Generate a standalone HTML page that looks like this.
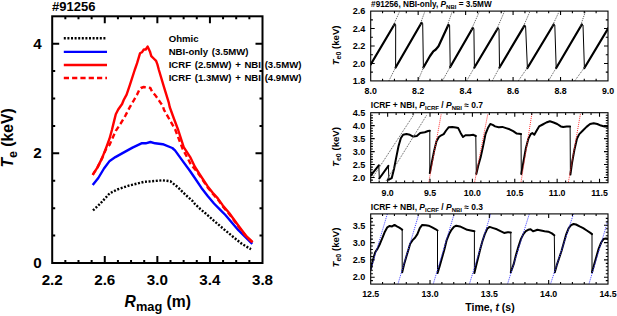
<!DOCTYPE html>
<html><head><meta charset="utf-8"><style>
html,body{margin:0;padding:0;background:#fff;}
body{width:617px;height:316px;overflow:hidden;}
svg{display:block;}
</style></head><body>
<svg width="617" height="316" viewBox="0 0 617 316">
<rect width="617" height="316" fill="#fff"/>
<g stroke="#000" stroke-width="2" fill="none">
<rect x="52.2" y="16.3" width="210.3" height="246.7"/>
<path d="M65.34 263v-3M65.34 16.3v3M78.49 263v-3M78.49 16.3v3M91.63 263v-3M91.63 16.3v3M104.77 263v-7M104.77 16.3v7M117.92 263v-3M117.92 16.3v3M131.06 263v-3M131.06 16.3v3M144.21 263v-3M144.21 16.3v3M157.35 263v-7M157.35 16.3v7M170.49 263v-3M170.49 16.3v3M183.64 263v-3M183.64 16.3v3M196.78 263v-3M196.78 16.3v3M209.93 263v-7M209.93 16.3v7M223.07 263v-3M223.07 16.3v3M236.21 263v-3M236.21 16.3v3M249.36 263v-3M249.36 16.3v3M52.2 235.59h3M262.5 235.59h-3M52.2 208.18h3M262.5 208.18h-3M52.2 180.77h3M262.5 180.77h-3M52.2 153.36h7M262.5 153.36h-7M52.2 125.94h3M262.5 125.94h-3M52.2 98.53h3M262.5 98.53h-3M52.2 71.12h3M262.5 71.12h-3M52.2 43.71h7M262.5 43.71h-7"/>
</g>
<g font-family='"Liberation Sans", sans-serif' font-weight="bold" font-size="15.2" fill="#000" text-anchor="middle">
<text x="52.2" y="285.2">2.2</text>
<text x="104.77" y="285.2">2.6</text>
<text x="157.35" y="285.2">3.0</text>
<text x="209.92" y="285.2">3.4</text>
<text x="262.5" y="285.2">3.8</text>
</g>
<g font-family='"Liberation Sans", sans-serif' font-weight="bold" font-size="15.2" fill="#000" text-anchor="end">
<text x="41.6" y="268">0</text>
<text x="41.6" y="158.36">2</text>
<text x="41.6" y="48.71">4</text>
</g>
<text x="52" y="11.3" font-family='"Liberation Sans", sans-serif' font-weight="bold" font-size="13">#91256</text>
<text x="124.6" y="307.2" font-family='"Liberation Sans", sans-serif' font-weight="bold" font-size="15.7"><tspan font-style="italic">R</tspan><tspan font-size="12.8" dy="4">mag</tspan><tspan dy="-4"> (m)</tspan></text>
<text transform="translate(13.4,167.6) rotate(-90)" font-family='"Liberation Sans", sans-serif' font-weight="bold" font-size="15.7"><tspan font-style="italic">T</tspan><tspan font-size="12.5" dy="3.8">e</tspan><tspan dy="-3.8"> (keV)</tspan></text>
<g stroke-width="2.4" fill="none">
<path d="M63.8 38.3H107" stroke="#000" stroke-dasharray="2 1.6"/>
<path d="M63.8 51.9H107" stroke="#0000ff"/>
<path d="M63.8 65H107" stroke="#ff0000"/>
<path d="M63.8 78H107" stroke="#ff0000" stroke-dasharray="5.2 3.1"/>
</g>
<g font-family='"Liberation Sans", sans-serif' font-weight="bold" font-size="9.6" word-spacing="1" fill="#000">
<text x="168.7" y="41.8">Ohmic</text>
<text x="168.7" y="54.6">NBI-only (3.5MW)</text>
<text x="168.7" y="67.6">ICRF (2.5MW) + NBI (3.5MW)</text>
<text x="168.7" y="80.6">ICRF (1.3MW) + NBI (4.9MW)</text>
</g>
<g fill="none" stroke-width="2.4" stroke-linejoin="round">
<polyline points="93,210.4 100.2,203.7 109.7,193.3 117.3,189.5 128.7,185.7 143.9,181.9 151.4,181.3 162.8,180.3 170.4,181.3 177.6,187 185.2,194.5 192.7,201.2 195,204.1 200.3,209 205.1,213 214,220.8 223.5,228.9 232.7,236.5 242.2,244.1 251,249.2" stroke="#000" stroke-dasharray="2 1.6"/>
<polyline points="92.7,185 98.3,178 104,168.5 109.7,160.9 115.4,157.1 123,152.9 132.5,147.6 142,143.2 145.7,143.3 150.4,142 155.2,143.3 162.8,144.2 172.3,148 175,150.4 182.6,160.9 190.2,171.2 195,178.2 201.3,187.7 207.7,195.9 214,203.5 220.3,209.8 225.4,215 231.1,221.8 238.4,230.2 252.3,243.9" stroke="#0000ff"/>
<polyline points="92.7,174.8 97.5,167.4 102.2,157.9 106.3,148.4 109.5,145 112.6,137.9 115.8,130.8 120.6,123.7 125.3,115.8 130,106.8 134,100 137.1,94.6 139.5,89.4 140.9,88 143.8,87 146.6,87.5 150.4,88 152.3,92.3 155.2,95.1 157.6,98.4 159.9,101.8 162.8,106 164,109.9 171.6,123.2 175.4,130 182.7,149 191.3,165.1 196,170.5 200.1,176 207.7,187.4 212.7,193.7 217.8,199.4 222.8,206.4 229.2,214 239,227.2 246.6,237 252.7,242.7" stroke="#ff0000" stroke-dasharray="5.2 3.1"/>
<polyline points="92.7,174.8 97.5,167.4 102.2,157.9 106.3,147.4 109.5,138.7 111.9,130 114.2,120.6 115.8,114.2 118.2,109.5 122.1,104 123.7,100 126.6,94.7 129.9,84.8 134.7,70 137.1,63.2 140,53.3 141.9,52.3 143.8,49.5 145.7,49.5 147.6,46.6 149.9,51.4 151.3,56.1 153.7,58.5 156.1,60.9 157.5,64.7 158.9,70 164,87.1 168.7,102.3 169.7,107 173.5,117.5 178.2,130 183.7,147.1 190.2,157.1 195,167 200.1,175 207.7,186.4 212.7,192.7 217.8,198.4 222.8,205.4 229.2,213 239,226.5 246.6,236.5 252.7,242.2" stroke="#ff0000"/>
</g>
<clipPath id="c1"><rect x="370.7" y="11.1" width="237.3" height="69.8"/></clipPath>
<g clip-path="url(#c1)" fill="none" stroke="#000" stroke-linejoin="round" stroke-linecap="round">
<polyline points="370.7,64.5 394.5,24.2" stroke-width="2.2"/>
<polyline points="395.6,67.5 421.5,22.8" stroke-width="2.2"/>
<polyline points="423.4,67.5 430,56 433.3,51.3 435.8,49.5 438.5,46.3 448.4,24.7" stroke-width="2.2"/>
<polyline points="450.2,67 472.7,28" stroke-width="2.2"/>
<polyline points="474.4,67.5 497.8,28.3" stroke-width="2.2"/>
<polyline points="499.5,67.5 524.4,25.6" stroke-width="2.2"/>
<polyline points="527.4,68 553.6,24.5" stroke-width="2.2"/>
<polyline points="556.2,68 581.8,24.5" stroke-width="2.2"/>
<polyline points="584.4,68 608.5,27.8" stroke-width="2.2"/>
<polyline points="394.5,24.2 395.7,24.7 395.6,67.5" stroke-width="1"/>
<polyline points="421.5,22.8 422.7,23.3 423.4,67.5" stroke-width="1"/>
<polyline points="448.4,24.7 449.6,25.2 450.2,67" stroke-width="1"/>
<polyline points="472.7,28 473.9,28.5 474.4,67.5" stroke-width="1"/>
<polyline points="497.8,28.3 499,28.8 499.5,67.5" stroke-width="1"/>
<polyline points="524.4,25.6 525.6,26.1 527.4,68" stroke-width="1"/>
<polyline points="553.6,24.5 554.8,25 556.2,68" stroke-width="1"/>
<polyline points="581.8,24.5 583,25 584.4,68" stroke-width="1"/>
</g>
<g clip-path="url(#c1)" fill="none" stroke-width="1" stroke-dasharray="1 1">
<line x1="393" y1="26.2" x2="399.7" y2="11.3" stroke="#555"/>
<line x1="388.8" y1="81" x2="396.1" y2="66.5" stroke="#555"/>
<line x1="420" y1="24.8" x2="424.9" y2="11.3" stroke="#555"/>
<line x1="417.9" y1="81" x2="423.9" y2="66.5" stroke="#555"/>
<line x1="446.9" y1="26.7" x2="452.3" y2="11.3" stroke="#555"/>
<line x1="442.3" y1="81" x2="450.7" y2="66" stroke="#555"/>
<line x1="471.2" y1="30" x2="479.5" y2="11.3" stroke="#555"/>
<line x1="466.6" y1="81" x2="474.9" y2="66.5" stroke="#555"/>
<line x1="496.3" y1="30.3" x2="504.5" y2="11.3" stroke="#555"/>
<line x1="492.2" y1="81" x2="500" y2="66.5" stroke="#555"/>
<line x1="522.9" y1="27.6" x2="530" y2="11.3" stroke="#555"/>
<line x1="518.2" y1="81" x2="527.9" y2="67" stroke="#555"/>
<line x1="552.1" y1="26.5" x2="559.2" y2="11.3" stroke="#555"/>
<line x1="548.4" y1="81" x2="556.7" y2="67" stroke="#555"/>
<line x1="580.3" y1="26.5" x2="585.5" y2="11.3" stroke="#555"/>
<line x1="574.6" y1="81" x2="584.9" y2="67" stroke="#555"/>
</g>
<g stroke="#000" stroke-width="1.1" fill="none">
<rect x="370.7" y="11.1" width="237.3" height="69.8"/>
<path d="M382.57 80.9v-2.2M382.57 11.1v2.2M394.43 80.9v-2.2M394.43 11.1v2.2M406.3 80.9v-2.2M406.3 11.1v2.2M418.16 80.9v-4M418.16 11.1v4M430.02 80.9v-2.2M430.02 11.1v2.2M441.89 80.9v-2.2M441.89 11.1v2.2M453.75 80.9v-2.2M453.75 11.1v2.2M465.62 80.9v-4M465.62 11.1v4M477.48 80.9v-2.2M477.48 11.1v2.2M489.35 80.9v-2.2M489.35 11.1v2.2M501.22 80.9v-2.2M501.22 11.1v2.2M513.08 80.9v-4M513.08 11.1v4M524.95 80.9v-2.2M524.95 11.1v2.2M536.81 80.9v-2.2M536.81 11.1v2.2M548.67 80.9v-2.2M548.67 11.1v2.2M560.54 80.9v-4M560.54 11.1v4M572.4 80.9v-2.2M572.4 11.1v2.2M584.27 80.9v-2.2M584.27 11.1v2.2M596.13 80.9v-2.2M596.13 11.1v2.2M370.7 72.17h2.2M608 72.17h-2.2M370.7 63.45h4M608 63.45h-4M370.7 54.73h2.2M608 54.73h-2.2M370.7 46h4M608 46h-4M370.7 37.28h2.2M608 37.28h-2.2M370.7 28.55h4M608 28.55h-4M370.7 19.83h2.2M608 19.83h-2.2"/>
</g>
<g font-family='"Liberation Sans", sans-serif' font-weight="bold" font-size="8.8" fill="#000">
<text x="370.7" y="93.7" text-anchor="middle">8.0</text>
<text x="418.16" y="93.7" text-anchor="middle">8.2</text>
<text x="465.62" y="93.7" text-anchor="middle">8.4</text>
<text x="513.08" y="93.7" text-anchor="middle">8.6</text>
<text x="560.54" y="93.7" text-anchor="middle">8.8</text>
<text x="608" y="93.7" text-anchor="middle">9.0</text>
</g>
<g font-family='"Liberation Sans", sans-serif' font-weight="bold" font-size="9.1" fill="#000">
<text x="365.3" y="84.2" text-anchor="end">1.8</text>
<text x="365.3" y="66.75" text-anchor="end">2.0</text>
<text x="365.3" y="49.3" text-anchor="end">2.2</text>
<text x="365.3" y="31.85" text-anchor="end">2.4</text>
<text x="365.3" y="14.4" text-anchor="end">2.6</text>
</g>
<text x="371.1" y="6.8" font-family='"Liberation Sans", sans-serif' font-weight="bold" font-size="8.2">#91256, NBI-only, <tspan font-style="italic">P</tspan><tspan font-size="6" dy="2">NBI</tspan><tspan dy="-2"> = 3.5MW</tspan></text>
<text transform="translate(338.6,45.4) rotate(-90)" text-anchor="middle" font-family='"Liberation Sans", sans-serif' font-weight="bold" font-size="9.6"><tspan font-style="italic">T</tspan><tspan font-size="7" dy="2.2">e0</tspan><tspan dy="-2.2"> (keV)</tspan></text>
<clipPath id="c2"><rect x="370.7" y="112.7" width="237.3" height="70"/></clipPath>
<g clip-path="url(#c2)" fill="none" stroke="#000" stroke-linejoin="round" stroke-linecap="round">
<polyline points="370.9,175.4 378.8,165.3" stroke-width="2.0"/>
<polyline points="379.3,178.5 388.4,165.8" stroke-width="2.0"/>
<polyline points="388.9,179.7 391.7,178.2 394,169 396.2,157.6 398.5,146.2 400.8,138.2 403.1,134.8 406.5,134.1 409.9,134.8 413.3,136.6 416.8,136 420.2,133 424.8,132.2 428.1,131 429.8,130.8" stroke-width="2.0"/>
<polyline points="429.8,173.1 431.7,163 434.1,151 436.5,141.3 438.9,137 441.3,135.3 443.7,134.1 446.1,130.5 448.6,127.3 452.2,126.9 455.8,127.6 458.2,128.1 460.6,132.9 463,137 465.4,135.3 469.8,135.3 473.4,134.8 475.8,136" stroke-width="2.0"/>
<polyline points="476.3,173.9 478.3,165.4 480.7,157 483.1,146.1 485.5,134.1 487.9,128.1 490.3,124 492.7,124.9 495.1,126.4 498.7,127.3 502.3,126.9 506,128.1 509.6,129.3 513.2,131.2 516.8,133.6 521,134.1" stroke-width="2.0"/>
<polyline points="521.3,173.9 523.4,161.8 525.8,148.6 528.3,138.9 530.7,134.1 532.3,133.1 534.3,134.8 536.7,130.5 539.1,126.4 542.7,124.5 546.3,122.5 549.9,121.3 553.6,122.5 557.2,124 560.8,126.4 563.2,126.9 566.8,126.4 570.1,126.4" stroke-width="2.0"/>
<polyline points="570.4,174.5 572,163 574.4,149.7 576.9,138.9 579.3,134.1 582.9,130.5 586.5,126.9 590.1,124 593.7,123.2 597.3,124 600.9,125.6 604.5,126.4 608,126.4" stroke-width="2.0"/>
<polyline points="378.8,165.3 379.3,178.5" stroke-width="1"/>
<polyline points="388.4,165.8 388.9,179.7" stroke-width="1"/>
<polyline points="429.8,130.5 429.8,173.1" stroke-width="1"/>
<polyline points="475.8,136 476.3,173.9" stroke-width="1"/>
<polyline points="521,134.1 521.3,173.9" stroke-width="1"/>
<polyline points="570.1,126.4 570.4,174.5" stroke-width="1"/>
</g>
<g clip-path="url(#c2)" fill="none" stroke-width="1" stroke-dasharray="1 1">
<line x1="372.8" y1="177.3" x2="413.7" y2="114.8" stroke="#555"/>
<line x1="386" y1="181" x2="426.9" y2="114.8" stroke="#555"/>
<line x1="428.8" y1="182.3" x2="441.3" y2="113.6" stroke="#ff3030"/>
<line x1="474.6" y1="182.3" x2="487.9" y2="113.6" stroke="#ff3030"/>
<line x1="521" y1="182.3" x2="531.9" y2="113.6" stroke="#ff3030"/>
<line x1="568.4" y1="182.2" x2="580.5" y2="113.6" stroke="#ff3030"/>
</g>
<g stroke="#000" stroke-width="1.1" fill="none">
<rect x="370.7" y="112.7" width="237.3" height="70"/>
<path d="M379.17 182.7v-2.2M379.17 112.7v2.2M387.65 182.7v-4M387.65 112.7v4M396.13 182.7v-2.2M396.13 112.7v2.2M404.6 182.7v-2.2M404.6 112.7v2.2M413.07 182.7v-2.2M413.07 112.7v2.2M421.55 182.7v-2.2M421.55 112.7v2.2M430.02 182.7v-4M430.02 112.7v4M438.5 182.7v-2.2M438.5 112.7v2.2M446.98 182.7v-2.2M446.98 112.7v2.2M455.45 182.7v-2.2M455.45 112.7v2.2M463.93 182.7v-2.2M463.93 112.7v2.2M472.4 182.7v-4M472.4 112.7v4M480.88 182.7v-2.2M480.88 112.7v2.2M489.35 182.7v-2.2M489.35 112.7v2.2M497.83 182.7v-2.2M497.83 112.7v2.2M506.3 182.7v-2.2M506.3 112.7v2.2M514.77 182.7v-4M514.77 112.7v4M523.25 182.7v-2.2M523.25 112.7v2.2M531.73 182.7v-2.2M531.73 112.7v2.2M540.2 182.7v-2.2M540.2 112.7v2.2M548.68 182.7v-2.2M548.68 112.7v2.2M557.15 182.7v-4M557.15 112.7v4M565.63 182.7v-2.2M565.63 112.7v2.2M574.1 182.7v-2.2M574.1 112.7v2.2M582.58 182.7v-2.2M582.58 112.7v2.2M591.05 182.7v-2.2M591.05 112.7v2.2M599.52 182.7v-4M599.52 112.7v4M370.7 180.11h2.2M608 180.11h-2.2M370.7 177.51h4M608 177.51h-4M370.7 174.92h2.2M608 174.92h-2.2M370.7 172.33h2.2M608 172.33h-2.2M370.7 169.74h2.2M608 169.74h-2.2M370.7 167.14h2.2M608 167.14h-2.2M370.7 164.55h4M608 164.55h-4M370.7 161.96h2.2M608 161.96h-2.2M370.7 159.37h2.2M608 159.37h-2.2M370.7 156.77h2.2M608 156.77h-2.2M370.7 154.18h2.2M608 154.18h-2.2M370.7 151.59h4M608 151.59h-4M370.7 149h2.2M608 149h-2.2M370.7 146.4h2.2M608 146.4h-2.2M370.7 143.81h2.2M608 143.81h-2.2M370.7 141.22h2.2M608 141.22h-2.2M370.7 138.63h4M608 138.63h-4M370.7 136.03h2.2M608 136.03h-2.2M370.7 133.44h2.2M608 133.44h-2.2M370.7 130.85h2.2M608 130.85h-2.2M370.7 128.26h2.2M608 128.26h-2.2M370.7 125.66h4M608 125.66h-4M370.7 123.07h2.2M608 123.07h-2.2M370.7 120.48h2.2M608 120.48h-2.2M370.7 117.89h2.2M608 117.89h-2.2M370.7 115.29h2.2M608 115.29h-2.2"/>
</g>
<g font-family='"Liberation Sans", sans-serif' font-weight="bold" font-size="8.8" fill="#000">
<text x="387.65" y="195.5" text-anchor="middle">9.0</text>
<text x="430.02" y="195.5" text-anchor="middle">9.5</text>
<text x="472.4" y="195.5" text-anchor="middle">10.0</text>
<text x="514.77" y="195.5" text-anchor="middle">10.5</text>
<text x="557.15" y="195.5" text-anchor="middle">11.0</text>
<text x="599.52" y="195.5" text-anchor="middle">11.5</text>
</g>
<g font-family='"Liberation Sans", sans-serif' font-weight="bold" font-size="9.1" fill="#000">
<text x="365.3" y="180.81" text-anchor="end">2.0</text>
<text x="365.3" y="167.85" text-anchor="end">2.5</text>
<text x="365.3" y="154.89" text-anchor="end">3.0</text>
<text x="365.3" y="141.93" text-anchor="end">3.5</text>
<text x="365.3" y="128.96" text-anchor="end">4.0</text>
<text x="365.3" y="116" text-anchor="end">4.5</text>
</g>
<text x="370.8" y="108.2" font-family='"Liberation Sans", sans-serif' font-weight="bold" font-size="8.45"><tspan>ICRF + NBI, </tspan><tspan font-style="italic">P</tspan><tspan font-size="6" dy="2">ICRF</tspan><tspan dy="-2"> / </tspan><tspan font-style="italic">P</tspan><tspan font-size="6" dy="2">NBI</tspan><tspan dy="-2"> &#8776; 0.7</tspan></text>
<text transform="translate(338.6,147) rotate(-90)" text-anchor="middle" font-family='"Liberation Sans", sans-serif' font-weight="bold" font-size="9.6"><tspan font-style="italic">T</tspan><tspan font-size="7" dy="2.2">e0</tspan><tspan dy="-2.2"> (keV)</tspan></text>
<clipPath id="c3"><rect x="370.7" y="213.9" width="237.3" height="70.2"/></clipPath>
<g clip-path="url(#c3)" fill="none" stroke="#000" stroke-linejoin="round" stroke-linecap="round">
<polyline points="370.9,269 372.8,260.6 375.2,252.2 377.6,248.6 380,243.7 382.5,237.7 384.9,231.7 387.3,227.3 389.7,225.9 392.1,226.4 394.5,224.9 396.9,226.4 399.3,227.6 401.7,229.3 402.2,229.8" stroke-width="2.0"/>
<polyline points="402.2,272.2 404.1,264.2 406.6,255.8 410.2,243.7 412.6,240.1 415,237.7 417.4,234.1 419.8,228.1 422.2,224.9 425.8,225.2 428.6,225.7 432.2,227.3 435.8,229.3 437.5,230.5" stroke-width="2.0"/>
<polyline points="437.5,273.1 439.5,266.6 441.9,258.2 444.3,249.8 446.7,240.1 449.1,234.1 451.5,229.8 453.9,226.9 456.3,225.7 459.9,226.4 463.6,228.1 467.2,229.8 470.8,230.5 474.4,231.2" stroke-width="2.0"/>
<polyline points="474.4,273.1 476.8,263 480.4,248.6 482.4,241.3 484.8,234.1 487.2,228.8 489.6,226.9 493.3,228.1 496.9,229.3 500.5,231.2 504.1,232.9 507.7,232.2 510.8,232.4" stroke-width="2.0"/>
<polyline points="510.8,272.2 513.7,264.2 516.1,254.6 518.6,246.1 521,238.9 523.4,234.1 525.8,231.2 528.2,229.8 530.6,229.3 533,231.2 535.4,230.5 537.4,229.8 541,230.5 544.6,231.2 548.3,231.7 551.9,233.4 554.3,235.3" stroke-width="2.0"/>
<polyline points="554.8,272.2 556.7,265.4 559.1,258.2 561.5,251 563.9,242.5 566.3,234.1 568.7,228.1 571.1,225.2 573.6,224 576,224.5 579.6,226.4 583.2,228.1 586.8,230.5 590.4,232.9 592,234.1" stroke-width="2.0"/>
<polyline points="592,272.2 593.9,265.4 596.3,257 598.7,248.6 601.2,242.5 603.6,238.9 606,238.4 608,238.9" stroke-width="2.0"/>
<polyline points="402.2,229.8 402.2,272.2" stroke-width="1"/>
<polyline points="437.5,230.5 437.5,273.1" stroke-width="1"/>
<polyline points="474.4,231.2 474.4,273.1" stroke-width="1"/>
<polyline points="510.8,232.4 510.8,272.2" stroke-width="1"/>
<polyline points="554.3,235.3 554.8,272.2" stroke-width="1"/>
<polyline points="592,234.1 592,272.2" stroke-width="1"/>
</g>
<g clip-path="url(#c3)" fill="none" stroke-width="1" stroke-dasharray="1 1">
<line x1="366.5" y1="284" x2="387.3" y2="214" stroke="#3a3aff"/>
<line x1="398.1" y1="283.5" x2="418.6" y2="214.8" stroke="#3a3aff"/>
<line x1="433.4" y1="283.5" x2="453.9" y2="214.8" stroke="#3a3aff"/>
<line x1="469.6" y1="283.5" x2="490.8" y2="213.6" stroke="#3a3aff"/>
<line x1="507.7" y1="283.5" x2="529.4" y2="213.6" stroke="#3a3aff"/>
<line x1="550.7" y1="283.5" x2="573.6" y2="213.6" stroke="#3a3aff"/>
<line x1="589.1" y1="283.5" x2="610" y2="213.6" stroke="#3a3aff"/>
</g>
<g stroke="#000" stroke-width="1.1" fill="none">
<rect x="370.7" y="213.9" width="237.3" height="70.2"/>
<path d="M382.56 284.1v-2.2M382.56 213.9v2.2M394.43 284.1v-2.2M394.43 213.9v2.2M406.3 284.1v-2.2M406.3 213.9v2.2M418.16 284.1v-2.2M418.16 213.9v2.2M430.02 284.1v-4M430.02 213.9v4M441.89 284.1v-2.2M441.89 213.9v2.2M453.75 284.1v-2.2M453.75 213.9v2.2M465.62 284.1v-2.2M465.62 213.9v2.2M477.49 284.1v-2.2M477.49 213.9v2.2M489.35 284.1v-4M489.35 213.9v4M501.21 284.1v-2.2M501.21 213.9v2.2M513.08 284.1v-2.2M513.08 213.9v2.2M524.95 284.1v-2.2M524.95 213.9v2.2M536.81 284.1v-2.2M536.81 213.9v2.2M548.67 284.1v-4M548.67 213.9v4M560.54 284.1v-2.2M560.54 213.9v2.2M572.4 284.1v-2.2M572.4 213.9v2.2M584.27 284.1v-2.2M584.27 213.9v2.2M596.13 284.1v-2.2M596.13 213.9v2.2M370.7 280.64h2.2M608 280.64h-2.2M370.7 277.18h4M608 277.18h-4M370.7 273.73h2.2M608 273.73h-2.2M370.7 270.27h2.2M608 270.27h-2.2M370.7 266.81h2.2M608 266.81h-2.2M370.7 263.35h2.2M608 263.35h-2.2M370.7 259.89h4M608 259.89h-4M370.7 256.43h2.2M608 256.43h-2.2M370.7 252.98h2.2M608 252.98h-2.2M370.7 249.52h2.2M608 249.52h-2.2M370.7 246.06h2.2M608 246.06h-2.2M370.7 242.6h4M608 242.6h-4M370.7 239.14h2.2M608 239.14h-2.2M370.7 235.69h2.2M608 235.69h-2.2M370.7 232.23h2.2M608 232.23h-2.2M370.7 228.77h2.2M608 228.77h-2.2M370.7 225.31h4M608 225.31h-4M370.7 221.85h2.2M608 221.85h-2.2M370.7 218.4h2.2M608 218.4h-2.2"/>
</g>
<g font-family='"Liberation Sans", sans-serif' font-weight="bold" font-size="8.8" fill="#000">
<text x="370.7" y="296.9" text-anchor="middle">12.5</text>
<text x="430.02" y="296.9" text-anchor="middle">13.0</text>
<text x="489.35" y="296.9" text-anchor="middle">13.5</text>
<text x="548.67" y="296.9" text-anchor="middle">14.0</text>
<text x="608" y="296.9" text-anchor="middle">14.5</text>
</g>
<g font-family='"Liberation Sans", sans-serif' font-weight="bold" font-size="9.1" fill="#000">
<text x="365.3" y="280.48" text-anchor="end">2.0</text>
<text x="365.3" y="263.19" text-anchor="end">2.5</text>
<text x="365.3" y="245.9" text-anchor="end">3.0</text>
<text x="365.3" y="228.61" text-anchor="end">3.5</text>
</g>
<text x="370.8" y="209.5" font-family='"Liberation Sans", sans-serif' font-weight="bold" font-size="8.45"><tspan>ICRF + NBI, </tspan><tspan font-style="italic">P</tspan><tspan font-size="6" dy="2">ICRF</tspan><tspan dy="-2"> / </tspan><tspan font-style="italic">P</tspan><tspan font-size="6" dy="2">NBI</tspan><tspan dy="-2"> &#8776; 0.3</tspan></text>
<text transform="translate(338.6,247.5) rotate(-90)" text-anchor="middle" font-family='"Liberation Sans", sans-serif' font-weight="bold" font-size="9.6"><tspan font-style="italic">T</tspan><tspan font-size="7" dy="2.2">e0</tspan><tspan dy="-2.2"> (keV)</tspan></text>
<text x="465.3" y="310.7" font-family='"Liberation Sans", sans-serif' font-weight="bold" font-size="10.5">Time, <tspan font-style="italic">t</tspan> (s)</text>
</svg>
</body></html>
